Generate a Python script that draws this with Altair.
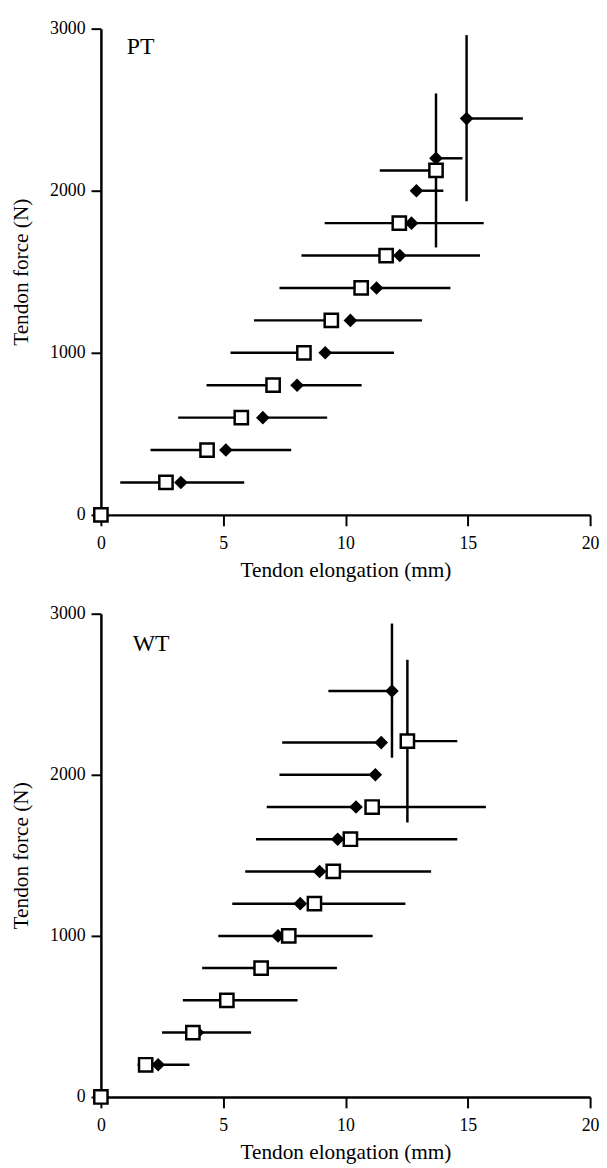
import altair as alt
import pandas as pd

# ---------------- data ----------------
# PT panel: filled diamonds
pt_dia_force = [0, 200, 400, 600, 800, 1000, 1200, 1400, 1600, 1800, 2000, 2200, 2445]
pt_dia_elong = [0, 3.27, 5.11, 6.62, 8.02, 9.17, 10.2, 11.27, 12.22, 12.7, 12.9, 13.7, 14.95]
pt_dia_bar_end = [None, 5.86, 7.78, 9.25, 10.66, 11.98, 13.13, 14.29, 15.5, 15.65, 14.0, 14.78, 17.25]
pt_dia_max_lo, pt_dia_max_hi = 1935, 2960
# PT panel: open squares
pt_sq_force = [0, 200, 400, 600, 800, 1000, 1200, 1400, 1600, 1800, 2125]
pt_sq_elong = [0, 2.66, 4.34, 5.74, 7.04, 8.30, 9.42, 10.64, 11.66, 12.2, 13.7]
pt_sq_bar_end = [None, 0.79, 2.03, 3.16, 4.32, 5.30, 6.26, 7.30, 8.2, 9.15, 11.4]
pt_sq_max_lo, pt_sq_max_hi = 1650, 2600

# WT panel: filled diamonds
wt_dia_force = [0, 200, 400, 600, 800, 1000, 1200, 1400, 1600, 1800, 2000, 2200, 2520]
wt_dia_elong = [0, 2.34, 3.95, 5.1, 6.45, 7.24, 8.15, 8.94, 9.68, 10.43, 11.22, 11.46, 11.9]
wt_dia_bar_end = [None, 1.5, 2.5, 3.35, 4.14, 4.80, 5.37, 5.90, 6.34, 6.78, 7.30, 7.41, 9.30]
wt_dia_max_lo, wt_dia_max_hi = 2106, 2939
# WT panel: open squares
wt_sq_force = [0, 200, 400, 600, 800, 1000, 1200, 1400, 1600, 1800, 2209]
wt_sq_elong = [0, 1.83, 3.76, 5.15, 6.55, 7.68, 8.73, 9.50, 10.20, 11.09, 12.53]
wt_sq_bar_end = [None, 3.62, 6.14, 8.04, 9.65, 11.11, 12.45, 13.50, 14.57, 15.74, 14.57]
wt_sq_max_lo, wt_sq_max_hi = 1704, 2714

panel_labels = ["PT", "WT"]
label_x = [1.06, 1.3]
label_y = [2888, 2814]

x_ticks = [0, 5, 10, 15, 20]
y_ticks = [0, 1000, 2000, 3000]

FONT = "Liberation Serif"


def panel(dia_f, dia_e, dia_b, dia_lo, dia_hi, sq_f, sq_e, sq_b, sq_lo, sq_hi,
          label, lx, ly, w, h):
    dia = pd.DataFrame({"force": dia_f, "elong": dia_e, "bar_end": dia_b})
    sq = pd.DataFrame({"force": sq_f, "elong": sq_e, "bar_end": sq_b})
    bars = pd.concat([dia, sq]).dropna()
    vert = pd.DataFrame({
        "elong": [dia_e[-1], sq_e[-1]],
        "lo": [dia_lo, sq_lo],
        "hi": [dia_hi, sq_hi],
    })
    txt = pd.DataFrame({"x": [lx], "y": [ly], "t": [label]})

    xs = alt.Scale(domain=[0, 20], nice=False, zero=False)
    ys = alt.Scale(domain=[0, 3000], nice=False, zero=False)
    xaxis = alt.Axis(values=x_ticks, title="Tendon elongation (mm)", grid=False,
                     tickSize=11, tickWidth=2, domainWidth=2.5, domainColor="black",
                     tickColor="black", labelFlush=False, labelOverlap=False,
                     labelFont=FONT, titleFont=FONT, labelFontSize=18, titleFontSize=21.5,
                     labelPadding=9, titlePadding=7, format="d")
    yaxis = alt.Axis(values=y_ticks, title="Tendon force (N)", grid=False,
                     tickSize=10, tickWidth=2, domainWidth=2.5, domainColor="black",
                     tickColor="black", labelFlush=False, labelOverlap=False,
                     labelFont=FONT, titleFont=FONT, labelFontSize=18, titleFontSize=21.5,
                     labelPadding=6, titlePadding=17, format="d")

    hbar = alt.Chart(bars).mark_rule(color="black", strokeWidth=2.5).encode(
        x=alt.X("elong:Q", scale=xs, axis=xaxis),
        x2="bar_end:Q",
        y=alt.Y("force:Q", scale=ys, axis=yaxis),
    )
    vbar = alt.Chart(vert).mark_rule(color="black", strokeWidth=2.5).encode(
        x=alt.X("elong:Q", scale=xs, axis=xaxis),
        y=alt.Y("lo:Q", scale=ys, axis=yaxis),
        y2="hi:Q",
    )
    dpts = alt.Chart(dia).mark_point(shape="diamond", filled=True, color="black",
                                     opacity=1, size=190).encode(
        x=alt.X("elong:Q", scale=xs, axis=xaxis),
        y=alt.Y("force:Q", scale=ys, axis=yaxis),
    )
    spts = alt.Chart(sq).mark_point(shape="square", filled=True, fill="white",
                                    stroke="black", strokeWidth=2.5, opacity=1,
                                    size=180).encode(
        x=alt.X("elong:Q", scale=xs, axis=xaxis),
        y=alt.Y("force:Q", scale=ys, axis=yaxis),
    )
    lab = alt.Chart(txt).mark_text(align="left", baseline="middle", font=FONT,
                                   fontSize=24, color="black").encode(
        x=alt.X("x:Q", scale=xs, axis=xaxis),
        y=alt.Y("y:Q", scale=ys, axis=yaxis),
        text="t:N",
    )
    return alt.layer(hbar, vbar, dpts, spts, lab).properties(width=w, height=h)


top = panel(pt_dia_force, pt_dia_elong, pt_dia_bar_end, pt_dia_max_lo, pt_dia_max_hi,
            pt_sq_force, pt_sq_elong, pt_sq_bar_end, pt_sq_max_lo, pt_sq_max_hi,
            panel_labels[0], label_x[0], label_y[0], 495, 492)
bottom = panel(wt_dia_force, wt_dia_elong, wt_dia_bar_end, wt_dia_max_lo, wt_dia_max_hi,
               wt_sq_force, wt_sq_elong, wt_sq_bar_end, wt_sq_max_lo, wt_sq_max_hi,
               panel_labels[1], label_x[1], label_y[1], 495, 489)

chart = alt.vconcat(top, bottom, spacing=24).properties(
    padding={"left": 3, "top": 5, "right": 0, "bottom": 0}
).configure(font=FONT).configure_view(stroke=None).configure_axis(
    labelFont=FONT, titleFont=FONT,
    labelColor="black", titleColor="black", titleFontWeight="normal",
)

chart.save("out.html", embed_options={"renderer": "svg", "actions": False})
